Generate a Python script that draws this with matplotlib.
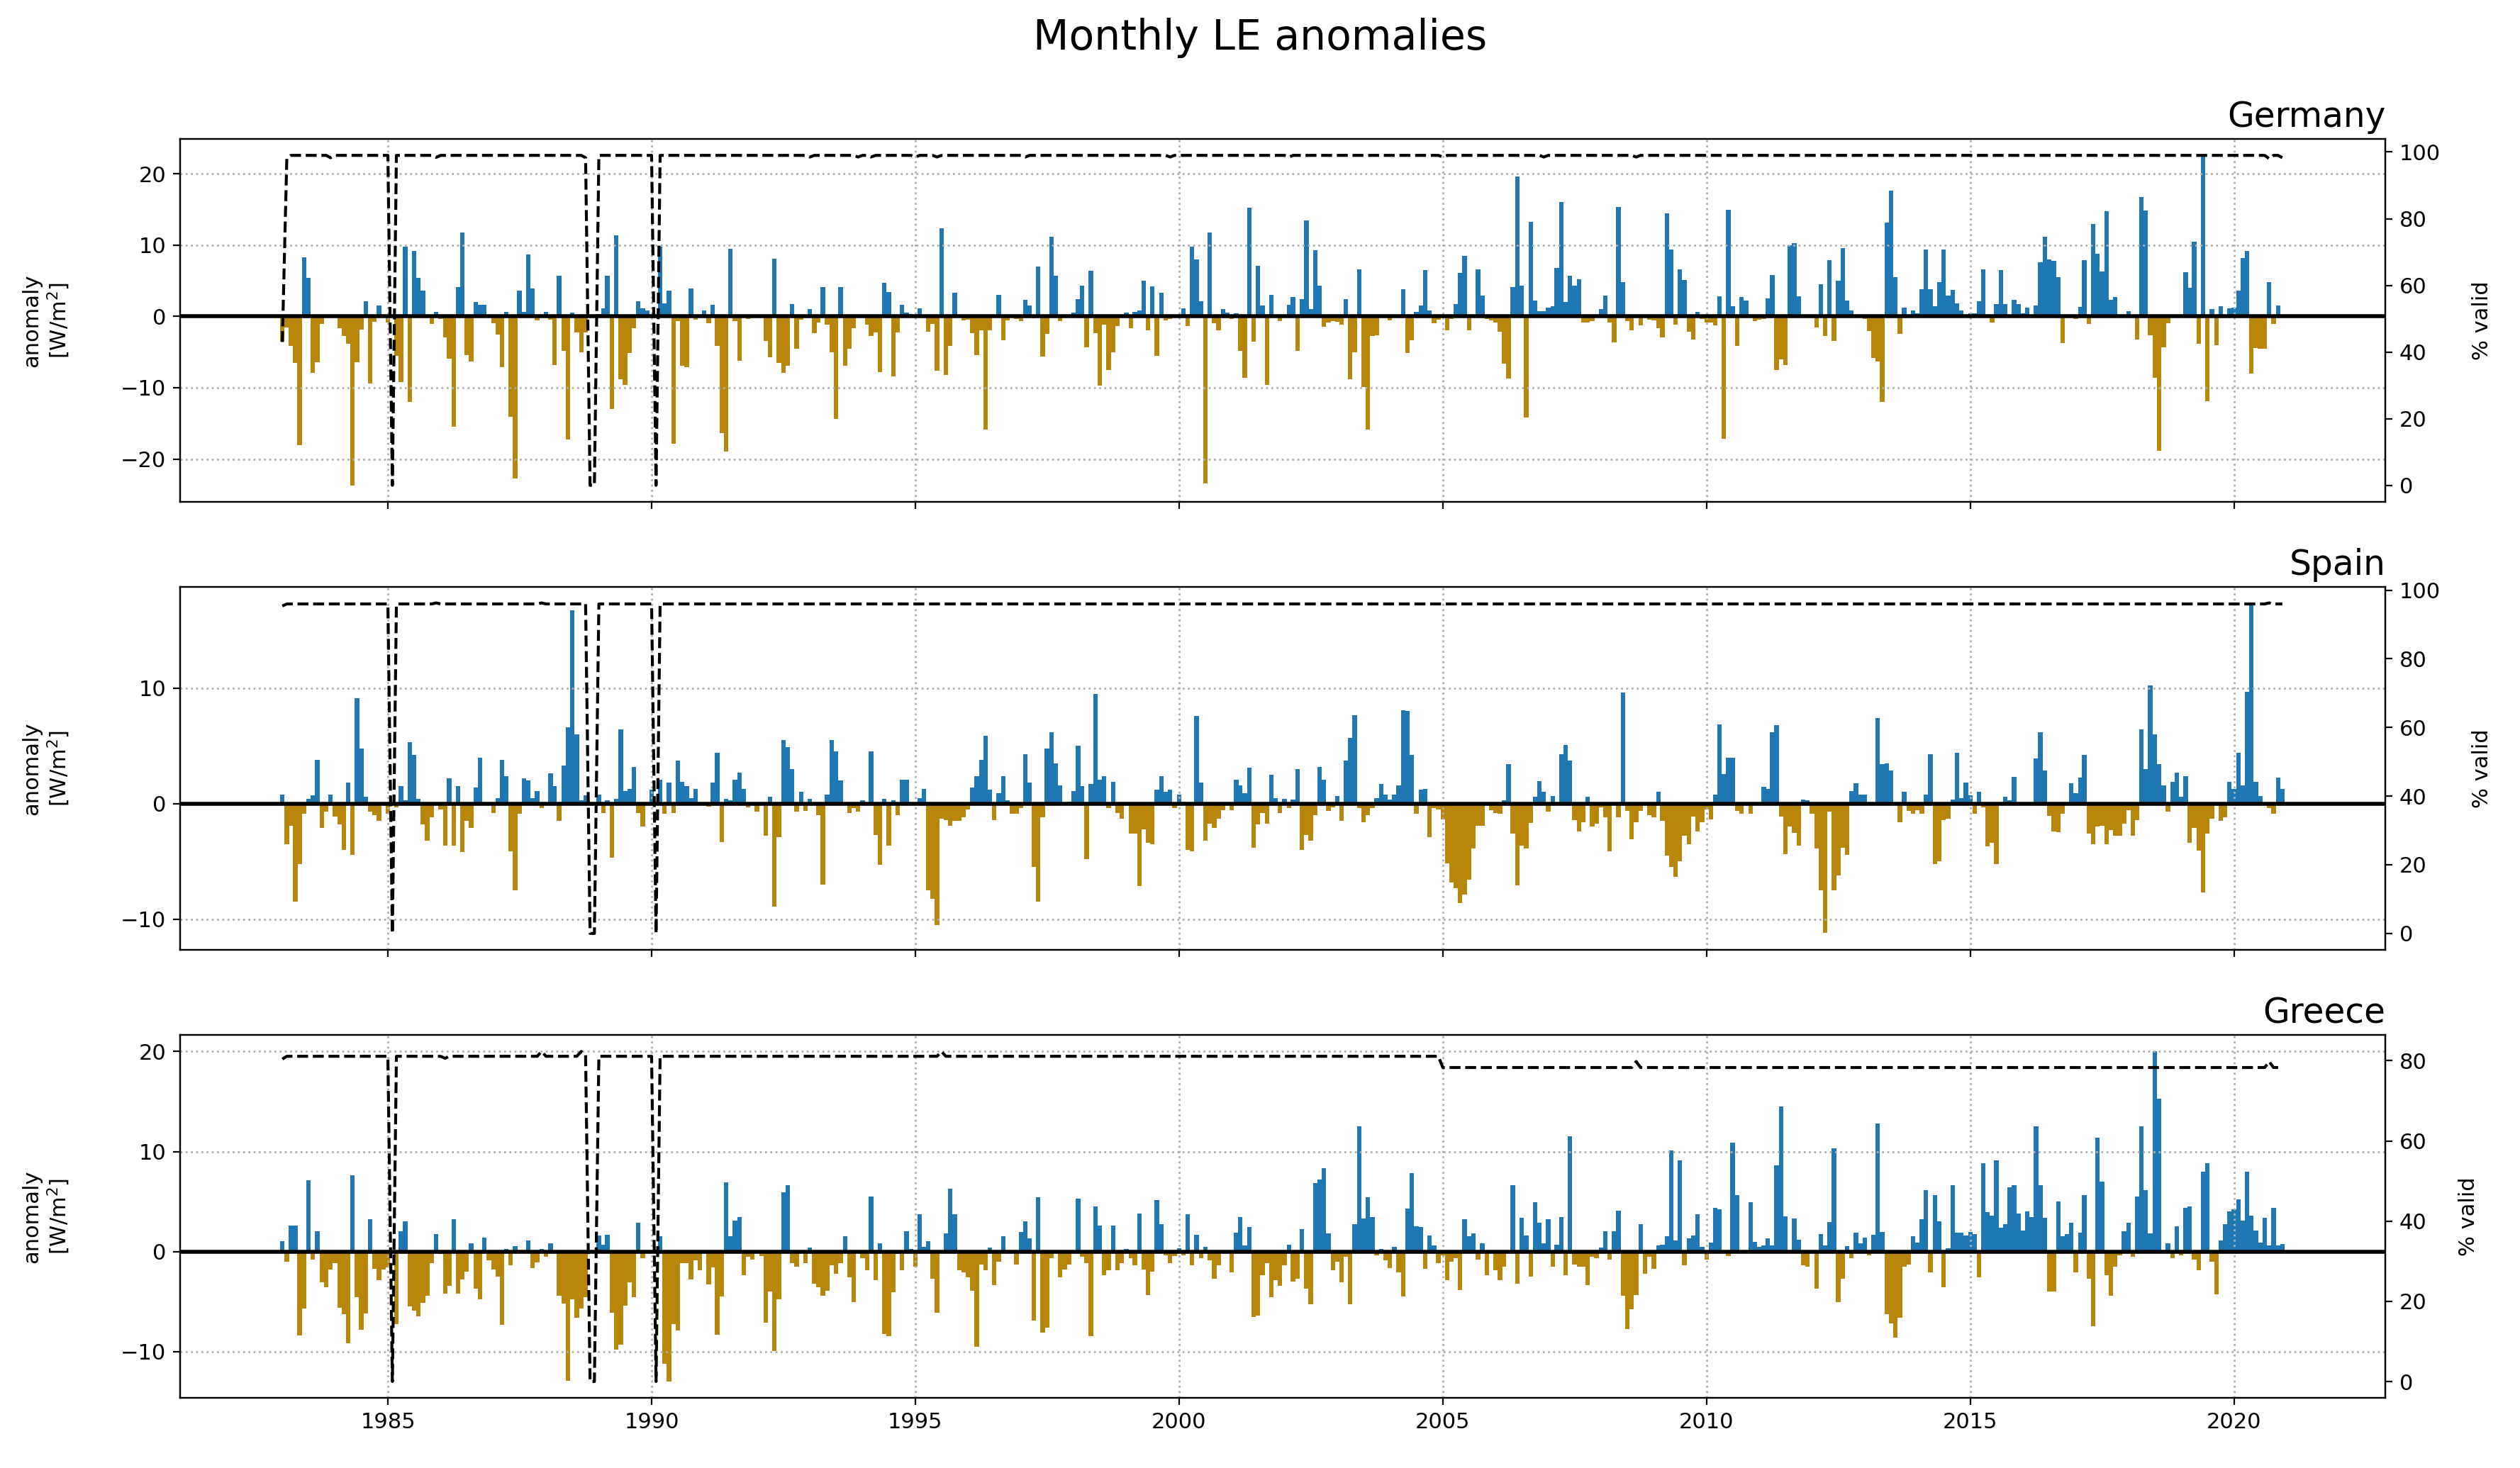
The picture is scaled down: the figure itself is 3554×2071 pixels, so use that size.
import numpy as np
import pandas as pd
import matplotlib
matplotlib.use("Agg")
import matplotlib.pyplot as plt
import matplotlib.dates as mdates

nan = np.nan

# ---------------- data (one row per year, Jan..Dec, 1983-2020) ----------------
germany_anom = [
    -3.5, -1.6, -4.1, -6.5, -18.1, 8.3, 5.4, -7.9, -6.4, -1.1, 0, 0,
    0, -1.7, -2.7, -3.8, -23.7, -6.4, -1.8, 2.1, -9.4, -0.8, 1.5, 0,
    -0.9, nan, -5.5, -9.2, 9.8, -12.0, 9.2, 5.4, 3.6, 0, -1.1, 0.6,
    -0.4, -2.9, -5.9, -15.5, 4.1, 11.8, -5.4, -6.3, 2.0, 1.6, 1.6, 0,
    -1.0, -2.5, -7.1, 0.6, -14.1, -22.7, 3.6, 0.6, 8.7, 3.9, -0.6, 0,
    0.6, -0.5, -6.8, 5.7, -4.8, -17.3, 0.5, -2.2, -5.0, -2.2, nan, nan,
    0.3, 1.1, 5.7, -13.0, 11.4, -8.8, -9.6, -5.1, -1.7, 2.1, 1.1, 0.8,
    0, nan, 9.8, 1.8, 3.6, -17.9, -0.7, -6.9, -7.1, 3.9, -0.5, 0,
    0.8, -1.0, 1.6, -4.1, -16.4, -18.9, 9.5, -0.7, -6.2, 0, -0.4, 0,
    0, 0, -3.4, -5.7, 8.1, -6.5, -7.9, -6.9, 1.7, -4.5, -0.5, 0,
    1.0, -2.3, -0.9, 4.1, -1.2, -5.0, -14.4, 4.1, -6.9, -4.5, -1.7, 0,
    0, -1.2, -2.7, -2.2, -7.8, 4.7, 3.4, -8.4, -2.2, 1.6, 0.5, 0.3,
    0, 1.1, 0, -2.1, -1.1, -7.6, 12.4, -8.2, -4.1, 3.3, 0, -0.6,
    -0.5, -2.3, -5.4, -1.9, -15.9, -1.9, 0.2, 3.0, -3.3, -0.6, 0, -0.4,
    -0.7, 2.3, 1.5, -0.3, 7.0, -5.6, -2.4, 11.2, 5.7, -0.7, 0, 0,
    0.5, 2.4, 4.3, -4.3, 6.4, -2.3, -9.7, -1.2, -7.5, -5.0, -1.4, 0,
    0.5, -1.7, 0.6, 0.8, 5.0, -1.9, 4.2, -5.5, 3.3, -0.6, -0.4, 0,
    0, 1.1, -1.4, 9.8, 8.0, 2.1, -23.4, 11.8, -1.0, -1.9, 1.0, 0.5,
    -0.4, 0.4, -4.8, -8.6, 15.2, -3.5, 7.1, 1.5, -9.6, 3.0, 0, -0.7,
    0, 1.6, 2.7, -4.8, 2.4, 13.5, 1.0, 9.3, 4.3, -1.5, -0.9, -0.7,
    -0.8, -1.2, 2.4, -8.8, -5.0, 6.6, -9.9, -15.9, -2.7, -2.6, 0, 0,
    -0.6, 0, 0, 3.8, -5.1, -3.3, 0.6, 1.5, 6.5, 0.8, -1.0, -0.5,
    0, -1.9, -0.4, 1.7, 6.1, 8.5, -1.9, 0, 6.6, 2.9, -0.4, -0.6,
    -0.9, -2.1, -6.6, -8.7, 4.1, 19.6, 4.3, -14.2, 13.3, 2.2, 0.7, 0.7,
    1.2, 1.4, 6.8, 16.0, 2.0, 5.7, 4.3, 5.2, -0.9, -0.9, -0.7, 0,
    1.0, 2.9, -0.9, -3.6, 15.3, 4.8, -0.7, -1.9, 0, -1.3, 0, -0.5,
    -0.6, -1.7, -2.9, 14.5, 9.4, -1.2, 6.6, 5.1, -2.1, -3.2, 0.6, -0.4,
    -0.9, -0.9, -1.3, 2.8, -17.2, 15.0, 1.4, -4.1, 2.7, 2.2, 0, -0.7,
    -0.5, -0.4, 2.5, 5.8, -7.5, -6.0, -6.8, 10.0, 10.3, 2.8, 0, 0,
    0, -1.6, 4.5, -2.7, 7.9, -3.4, 5.0, 9.6, 2.2, 0.8, 0, 0,
    -0.4, -2.0, -5.8, -6.3, -12.0, 13.2, 17.6, 5.5, -2.4, 1.2, 0, 0.8,
    0.4, 3.8, 9.4, 3.8, 1.4, 4.8, 9.4, 2.9, 3.7, 1.8, 0.8, 0,
    0.4, 0.4, 2.1, 6.6, 0, -0.9, 1.7, 6.5, 1.7, 0, 2.3, 1.7,
    0.4, 1.2, 0, 1.5, 7.6, 11.2, 8.0, 7.8, 5.5, -3.7, 0, 0,
    -0.4, 1.3, 7.9, -1.1, 13.0, 8.8, 6.3, 14.8, 2.3, 2.7, 0, 0,
    0.7, 0, -3.2, 16.7, 14.9, -2.6, -8.6, -18.8, -4.3, -1.0, 0, 0,
    0, 6.2, 4.0, 10.5, -3.8, 22.6, -11.9, 1.0, -4.0, 1.4, 0, 1.1,
    1.2, 3.6, 8.2, 9.2, -8.0, -4.4, -4.5, -4.5, 4.8, -1.1, 1.5, 0.2,
]

spain_anom = [
    0.8, -3.5, -1.9, -8.5, -5.2, -0.9, 0.4, 0.7, 3.8, -2.1, -0.7, 0.8,
    -1.1, -1.8, -4.0, 1.8, -4.4, 9.1, 4.8, 0.6, -0.7, -1.0, -1.5, 0,
    -0.9, nan, -0.3, 1.5, 0.3, 5.3, 4.2, 0.4, -1.8, -3.2, -1.2, 0,
    -0.5, -3.6, 2.2, -3.6, 1.5, -4.2, -1.5, -2.1, 1.4, 4.0, 0, 0,
    -0.8, 0.45, 3.8, 2.4, -4.1, -7.5, -0.9, 2.2, 2.0, 0.5, 1.1, -0.35,
    0, 2.6, 1.5, -1.5, 3.3, 6.6, 16.7, 6.0, 0.3, 0.7, nan, nan,
    0.8, -0.8, 0.3, -4.7, 0.4, 6.4, 1.1, 1.3, 3.2, -0.8, -2.0, 0,
    1.2, nan, 2.1, -0.9, 1.8, -0.8, 3.7, 1.9, 1.5, 0.5, 1.3, 0,
    0, -0.25, 1.8, 4.4, -3.3, 0.4, 0.3, 2.1, 2.7, 1.3, -0.3, 0,
    -0.7, 0, -2.8, 0.6, -8.9, -2.9, 5.5, 4.9, 3.0, -0.7, 1.0, -0.65,
    0.4, 0, -1.0, -7.0, 0.8, 5.5, 4.5, 2.0, 0, -0.8, -0.4, -0.7,
    0.3, 0, 4.5, -2.7, -5.3, 0.4, -3.6, 0.3, -1.0, 2.1, 2.1, 0,
    0, 0.45, 1.3, -7.5, -8.2, -10.5, -1.3, -1.4, -1.9, -1.5, -1.5, -1.2,
    -0.5, 1.4, 2.4, 3.8, 5.9, 1.2, -1.4, 0.9, 2.4, 0.3, -0.9, -0.9,
    -0.4, 4.3, 1.8, -5.5, -8.5, -1.2, 4.8, 6.2, 3.5, 1.6, 0, 0.2,
    1.1, 5.0, 1.5, -4.8, 1.7, 9.5, 2.1, 2.4, -0.4, 1.9, -0.8, -1.3,
    0, -2.6, -2.6, -7.1, -2.2, -3.4, -3.5, 1.2, 2.4, 1.0, 1.2, -0.35,
    0.8, 0.2, -4.0, -4.1, 7.6, 1.8, -3.2, -1.7, -2.1, -1.3, -0.55, 0,
    -0.55, 2.1, 1.6, 0.9, 3.1, -3.8, -1.8, -0.8, -1.7, 2.5, 0.45, -0.8,
    0.4, -0.4, 0.35, 3.0, -4.0, -2.7, -3.2, -1.0, 3.2, 2.1, -0.65, -0.3,
    0.65, -1.5, 3.7, 5.7, 7.65, -0.35, -1.6, -1.0, -0.35, 0.5, 1.7, 0.8,
    0.35, 0.8, 1.6, 8.1, 8.0, 4.2, -0.9, 1.2, 1.3, -2.9, -0.35, -0.5,
    -1.35, -5.15, -6.8, -7.3, -8.6, -7.85, -6.6, -3.9, -1.9, -1.9, 0, -0.55,
    -0.8, -0.9, 0.3, 3.4, -2.6, -7.05, -3.6, -3.9, -1.65, 0.6, 1.95, 1.0,
    -0.7, 0.65, 0, 4.3, 5.1, 3.7, -1.4, -2.4, -1.6, 0.6, -2.0, -1.7,
    -0.3, -1.15, -4.1, 0, -1.15, 9.6, -0.6, -3.1, -1.6, -0.6, 0, -1.0,
    -1.2, 1.0, -1.5, -4.5, -5.5, -6.3, -5.0, -2.8, -3.5, -1.1, -2.4, -1.6,
    -0.5, -1.35, 0.8, 6.85, 2.55, 4.0, 3.95, -0.65, -0.9, 0, -0.9, 0,
    0, 1.45, 1.3, 6.2, 6.8, -1.1, -4.35, -2.0, -2.5, -3.6, 0.35, 0.3,
    -0.9, -3.9, -7.5, -11.2, -0.7, -7.5, -6.2, -3.8, -4.4, 1.1, 1.75, 0.8,
    0.8, 0, 0, 7.4, 3.4, 3.5, 2.9, 0, -1.6, 1.0, -0.6, -0.85,
    -0.55, -0.85, 0.8, 4.3, -5.2, -4.95, -1.4, -1.3, 0.35, 4.4, 0.45, 1.8,
    0.7, -0.9, 1.0, -0.3, -3.7, -3.4, -5.2, 0, 0.6, 0.3, 2.3, 0,
    0, 0, 0, 3.9, 6.2, 2.9, -1.05, -2.4, -2.45, -0.85, 0, 1.75,
    0.9, 2.25, 4.2, -2.6, -3.5, -1.95, -1.9, -3.5, -2.3, -2.8, -2.75, -1.7,
    -0.55, -2.8, -1.4, 6.4, 3.0, 10.2, 6.0, 3.4, 1.6, -0.7, 1.9, 2.7,
    0.6, 2.4, -3.4, -2.1, -4.05, -7.7, -2.6, -1.3, 0, -1.5, -1.15, 1.9,
    1.3, 4.4, 1.6, 9.7, 17.3, 1.9, 0.65, 0, -0.4, -0.9, 2.25, 1.3,
]

greece_anom = [
    1.05, -1.05, 2.6, 2.6, -8.4, -5.7, 7.15, -0.8, 2.0, -3.1, -3.6, -1.8,
    -1.2, -5.6, -6.3, -9.2, 7.6, -4.6, -7.8, -6.2, 3.25, -1.7, -2.9, -1.8,
    -1.6, nan, -7.25, 2.0, 3.0, -5.5, -5.9, -6.5, -5.1, -4.4, -1.15, 1.75,
    -0.25, -4.2, -3.4, 3.2, -4.2, -2.8, -2.0, 0.8, -3.7, -4.8, 1.4, -0.9,
    -1.8, -2.5, -7.3, 0.25, -1.4, 0.55, 0, 0, 1.1, -1.65, -1.1, 0.25,
    -0.5, 0.8, 0, -4.4, -5.2, -12.9, -4.8, -6.6, -5.7, -4.6, nan, nan,
    1.6, 0.7, 1.7, -6.1, -9.8, -9.3, -5.4, -3.1, -4.6, 2.9, -0.65, 0,
    0, nan, 1.5, -11.2, -13.0, -7.25, -7.9, -1.15, -1.2, -2.8, -0.85, -1.85,
    0, -3.3, -1.6, -8.3, -4.5, 6.9, 1.5, 3.1, 3.45, -2.35, -0.55, -0.8,
    0, -0.45, -7.1, -4.0, -9.95, -4.8, 5.95, 6.65, -1.15, -1.5, 0, -1.2,
    0.4, -3.2, -3.55, -4.4, -3.9, -1.4, -2.2, -1.2, 1.5, -2.55, -5.05, 0,
    -0.65, -1.85, 5.5, -2.9, 0.85, -8.25, -8.5, -4.1, -0.25, -1.85, 2.05, 0.25,
    -1.5, 3.75, 0.5, 1.05, -2.7, -6.1, 0, 1.8, 6.3, 3.75, -1.9, -2.1,
    -2.6, -3.9, -9.5, -1.3, -1.85, 0.4, -3.35, -1.05, 1.5, 0, 0, -1.3,
    1.95, 3.0, 1.3, -6.9, 5.4, -8.1, -7.6, -0.7, -0.2, -2.55, -1.8, -1.3,
    0, 5.3, -0.55, -1.15, -8.45, 4.5, 2.6, -2.4, -1.85, 2.6, -1.9, -1.2,
    0.25, -0.7, -1.35, 3.8, -1.8, -4.35, -2.05, 5.15, 2.7, -0.35, -1.15, -0.45,
    0.35, -0.35, 3.7, -1.35, 1.7, -0.65, 0.5, -0.9, -2.7, -1.4, 0, 0,
    -2.1, 1.9, 3.45, 0.6, 2.45, -6.55, -6.4, -2.35, -1.15, -4.55, -2.9, -3.4,
    -1.35, 0.7, -3.0, -2.7, 2.25, -3.7, -5.25, 6.85, 7.2, 8.35, 1.8, -1.9,
    -1.05, -3.1, -0.55, -5.25, 2.7, 12.5, 3.3, 5.45, 3.45, -0.35, 0.25, -0.85,
    -1.65, 0.5, -2.1, -4.5, 4.3, 7.85, 2.55, 2.45, -1.7, 1.6, 0.6, -1.2,
    -0.35, -2.85, -1.05, -0.65, -3.85, 3.2, 1.5, 1.8, -0.8, 0.85, -2.35, 0,
    -1.9, -2.9, -1.5, 0, 6.65, -3.2, 3.4, 1.6, -2.5, 4.9, 2.9, 0.85,
    3.2, -1.55, 0.7, 3.45, -2.4, 11.5, -1.3, -1.5, -1.5, -3.35, -0.5, -0.7,
    0.4, 2.05, -0.8, 2.05, 4.1, -4.4, -7.75, -5.8, -4.35, 2.7, -2.2, -0.55,
    -1.7, 0.6, 0.7, 1.5, 10.1, 1.1, 9.15, -1.4, 1.3, 1.6, 3.7, 0.5,
    -0.8, 0.9, 4.4, 4.2, 0, -0.45, 10.9, 5.65, 0, 0, 4.95, 0.95,
    0.5, 0.6, 1.3, 0.6, 8.65, 14.5, 3.5, 0, 3.3, 1.2, -1.4, -1.55,
    0, -3.75, 1.75, 0.6, 2.95, 10.35, -5.05, -2.7, 0.55, -0.7, 1.9, 0.85,
    1.4, -0.35, 1.7, 12.8, 1.95, -6.25, -7.2, -8.6, -6.6, -1.5, -1.3, 1.55,
    0.9, 3.25, 6.15, -2.1, 5.65, 3.0, -3.55, 0.35, 6.65, 1.9, 1.9, 1.6,
    1.95, 1.75, -2.55, 8.85, 3.95, 3.55, 9.1, 2.4, 2.75, 6.45, 6.65, 3.8,
    2.1, 4.0, 3.45, 12.55, 6.65, 3.4, -4.0, -4.0, 5.0, 1.55, 1.75, 2.9,
    -2.1, 1.9, 5.65, -2.7, -7.45, 11.35, 7.0, -2.4, -4.4, -1.55, -0.35, 2.05,
    2.9, -0.55, 5.5, 12.5, 6.15, 1.8, 20.0, 15.3, 0, 0.85, -0.65, 2.55,
    -0.35, 4.4, 4.5, -0.8, -1.85, 8.0, 8.85, -1.0, -4.25, 1.1, 2.75, 4.0,
    4.25, 5.25, 3.1, 8.0, 3.6, 2.1, 0.9, 3.4, 0.6, 4.4, 0.6, 0.75,
]

germany_valid = [
    43, 98, 99, 99, 99, 99, 99, 99, 99, 99, 99, 98.3,
    99, 99, 99, 99, 99, 99, 99, 99, 99, 99, 99, 99,
    99, 0, 99, 99, 99, 99, 99, 99, 99, 99, 99, 98.4,
    99, 99, 99, 99, 99, 99, 99, 99, 99, 99, 99, 99,
    99, 99, 99, 99, 99, 99, 99, 99, 99, 99, 99, 99,
    99, 99, 99, 99, 99, 99, 99, 99, 99, 98.3, 0, 0,
    99, 99, 99, 99, 99, 99, 99, 99, 99, 99, 99, 99,
    99, 0, 99, 99, 99, 99, 99, 99, 99, 99, 99, 99,
    99, 99, 99, 99, 99, 99, 99, 99, 99, 99, 99, 99,
    99, 99, 99, 99, 99, 99, 99, 99, 99, 99, 99, 99,
    98.5, 99, 99, 99, 99, 99, 99, 99, 99, 99, 99, 98.5,
    99, 99, 98.5, 99, 99, 99, 99, 99, 99, 99, 99, 99,
    98.5, 99, 99, 99, 99, 98.5, 99, 99, 99, 99, 99, 99,
    99, 99, 99, 99, 99, 99, 99, 99, 99, 99, 99, 99,
    99, 98.5, 99, 99, 99, 99, 99, 99, 99, 99, 99, 99,
    99, 99, 99, 99, 99, 99, 99, 99, 99, 99, 99, 99,
    99, 99, 99, 99, 99, 99, 99, 99, 99, 99, 98.5, 99,
    99, 99, 99, 99, 99, 99, 99, 99, 99, 99, 99, 99,
    99, 99, 99, 99, 99, 99, 99, 99, 99, 99, 99, 99,
    99, 98.5, 99, 99, 99, 99, 99, 99, 99, 99, 99, 99,
    99, 99, 99, 99, 99, 99, 99, 99, 99, 99, 99, 99,
    99, 99, 99, 99, 99, 99, 99, 99, 99, 99, 99, 99,
    98.5, 99, 99, 99, 99, 99, 99, 99, 99, 99, 99, 99,
    99, 99, 99, 99, 99, 99, 99, 99, 99, 99, 99, 98.5,
    99, 99, 99, 99, 99, 99, 99, 99, 99, 99, 99, 99,
    99, 99, 99, 99, 99, 99, 99, 99, 98.5, 99, 99, 99,
    99, 99, 99, 99, 99, 99, 99, 99, 99, 99, 99, 99,
    99, 99, 99, 99, 99, 99, 99, 99, 99, 99, 99, 99,
    99, 99, 99, 99, 99, 99, 99, 99, 99, 99, 99, 99,
    99, 99, 99, 99, 99, 99, 99, 99, 99, 99, 99, 99,
    99, 99, 99, 99, 99, 99, 99, 99, 99, 99, 99, 99,
    99, 99, 99, 99, 99, 99, 99, 99, 99, 99, 99, 99,
    99, 99, 99, 99, 99, 99, 99, 99, 99, 99, 99, 99,
    99, 99, 99, 99, 99, 99, 99, 99, 99, 99, 99, 99,
    99, 99, 99, 99, 99, 99, 99, 99, 99, 99, 99, 99,
    99, 99, 99, 99, 99, 99, 99, 99, 99, 99, 99, 99,
    99, 99, 99, 99, 99, 99, 99, 99, 99, 99, 99, 99,
    99, 99, 99, 99, 99, 99, 99, 99, 98, 99, 99, 98.3,
]

spain_valid = [
    95.4, 96, 96, 96, 96, 96, 96, 96, 96, 96, 96, 96,
    96, 96, 96, 96, 96, 96, 96, 96, 96, 96, 96, 96,
    96, 0, 96, 96, 96, 96, 96, 96, 96, 96, 96, 96.3,
    96, 96, 96, 96, 96, 96, 96, 96, 96, 96, 96, 96,
    96, 96, 96, 96, 96, 96, 96, 96, 96, 96, 96, 96.3,
    96, 96, 96, 96, 96, 96, 96, 96, 96, 96, 0, 0,
    96, 96, 96, 96, 96, 96, 96, 96, 96, 96, 96, 96,
    96, 0, 96, 96, 96, 96, 96, 96, 96, 96, 96, 96,
    96, 96, 96, 96, 96, 96, 96, 96, 96, 96, 96, 96,
    96, 96, 96, 96, 96, 96, 96, 96, 96, 96, 96, 96,
    96, 96, 96, 96, 96, 96, 96, 96, 96, 96, 96, 96,
    96, 96, 96, 96, 96, 96, 96, 96, 96, 96, 96, 96,
    96, 96, 96, 96, 96, 96, 96, 96, 96, 96, 96, 96,
    96, 96, 96, 96, 96, 96, 96, 96, 96, 96, 96, 96,
    96, 96, 96, 96, 96, 96, 96, 96, 96, 96, 96, 96,
    96, 96, 96, 96, 96, 96, 96, 96, 96, 96, 96, 96,
    96, 96, 96, 96, 96, 96, 96, 96, 96, 96, 96, 96,
    96, 96, 96, 96, 96, 96, 96, 96, 96, 96, 96, 96,
    96, 96, 96, 96, 96, 96, 96, 96, 96, 96, 96, 96,
    96, 96, 96, 96, 96, 96, 96, 96, 96, 96, 96, 96,
    96, 96, 96, 96, 96, 96, 96, 96, 96, 96, 96, 96,
    96, 96, 96, 96, 96, 96, 96, 96, 96, 96, 96, 96,
    96, 96, 96, 96, 96, 96, 96, 96, 96, 96, 96, 96,
    96, 96, 96, 96, 96, 96, 96, 96, 96, 96, 96, 96,
    96, 96, 96, 96, 96, 96, 96, 96, 96, 96, 96, 96,
    96, 96, 96, 96, 96, 96, 96, 96, 96, 96, 96, 96,
    96, 96, 96, 96, 96, 96, 96, 96, 96, 96, 96, 96,
    96, 96, 96, 96, 96, 96, 96, 96, 96, 96, 96, 96,
    96, 96, 96, 96, 96, 96, 96, 96, 96, 96, 96, 96,
    96, 96, 96, 96, 96, 96, 96, 96, 96, 96, 96, 96,
    96, 96, 96, 96, 96, 96, 96, 96, 96, 96, 96, 96,
    96, 96, 96, 96, 96, 96, 96, 96, 96, 96, 96, 96,
    96, 96, 96, 96, 96, 96, 96, 96, 96, 96, 96, 96,
    96, 96, 96, 96, 96, 96, 96, 96, 96, 96, 96, 96,
    96, 96, 96, 96, 96, 96, 96, 96, 96, 96, 96, 96,
    96, 96, 96, 96, 96, 96, 96, 96, 96, 96, 96, 96,
    96, 96, 96, 96, 96, 96, 96, 96, 96, 96, 96, 96,
    96, 96, 96, 96, 96, 96, 96, 96, 96.3, 96, 96, 96,
]

greece_valid = [
    80.4, 81.1, 81.1, 81.1, 81.1, 81.1, 81.1, 81.1, 81.1, 81.1, 81.1, 81.1,
    81.1, 81.1, 81.1, 81.1, 81.1, 81.1, 81.1, 81.1, 81.1, 81.1, 81.1, 81.1,
    81.1, 0, 81.1, 81.1, 81.1, 81.1, 81.1, 81.1, 81.1, 81.1, 81.1, 81.1,
    81.1, 80.6, 81.1, 81.1, 81.1, 81.1, 81.1, 81.1, 81.1, 81.1, 81.1, 81.1,
    81.1, 81.1, 81.1, 81.1, 81.1, 81.1, 81.1, 81.1, 81.1, 81.1, 81.1, 82.3,
    81.1, 81.1, 81.1, 81.1, 81.1, 81.1, 81.1, 81.1, 82.3, 81.5, 0, 0,
    81.1, 81.1, 81.1, 81.1, 81.1, 81.1, 81.1, 81.1, 81.1, 81.1, 81.1, 81.1,
    81.1, 0, 81.1, 81.1, 81.1, 81.1, 81.1, 81.1, 81.1, 81.1, 81.1, 81.1,
    81.1, 81.1, 81.1, 81.1, 81.1, 81.1, 81.1, 81.1, 81.1, 81.1, 81.1, 81.1,
    81.1, 81.1, 81.1, 81.1, 81.1, 81.1, 81.1, 81.1, 81.1, 81.1, 81.1, 81.1,
    81.1, 81.1, 81.1, 81.1, 81.1, 81.1, 81.1, 81.1, 81.1, 81.1, 81.1, 81.1,
    81.1, 81.1, 81.1, 81.1, 81.1, 81.1, 81.1, 81.1, 81.1, 81.1, 81.1, 81.1,
    81.1, 81.1, 81.1, 81.1, 81.1, 81.1, 82.3, 81.1, 81.1, 81.1, 81.1, 81.1,
    81.1, 81.1, 81.1, 81.1, 81.1, 81.1, 81.1, 81.1, 81.1, 81.1, 81.1, 81.1,
    81.1, 81.1, 81.1, 81.1, 81.1, 81.1, 81.1, 81.1, 81.1, 81.1, 81.1, 81.1,
    81.1, 81.1, 81.1, 81.1, 81.1, 81.1, 81.1, 81.1, 81.1, 81.1, 81.1, 81.1,
    81.1, 81.1, 81.1, 81.1, 81.1, 81.1, 81.1, 81.1, 81.1, 81.1, 81.1, 81.1,
    81.1, 81.1, 81.1, 81.1, 81.1, 81.1, 81.1, 81.1, 81.1, 81.1, 81.1, 81.1,
    81.1, 81.1, 81.1, 81.1, 81.1, 81.1, 81.1, 81.1, 81.1, 81.1, 81.1, 81.1,
    81.1, 81.1, 81.1, 81.1, 81.1, 81.1, 81.1, 81.1, 81.1, 81.1, 81.1, 81.1,
    81.1, 81.1, 81.1, 81.1, 81.1, 81.1, 81.1, 81.1, 81.1, 81.1, 81.1, 81.1,
    81.1, 81.1, 81.1, 81.1, 81.1, 81.1, 81.1, 81.1, 81.1, 81.1, 81.1, 81.1,
    78.3, 78.3, 78.3, 78.3, 78.3, 78.3, 78.3, 78.3, 78.3, 78.3, 78.3, 78.3,
    78.3, 78.3, 78.3, 78.3, 78.3, 78.3, 78.3, 78.3, 78.3, 78.3, 78.3, 78.3,
    78.3, 78.3, 78.3, 78.3, 78.3, 78.3, 78.3, 78.3, 78.3, 78.3, 78.3, 78.3,
    78.3, 78.3, 78.3, 78.3, 78.3, 78.3, 78.3, 78.3, 79.8, 78.3, 78.3, 78.3,
    78.3, 78.3, 78.3, 78.3, 78.3, 78.3, 78.3, 78.3, 78.3, 78.3, 78.3, 78.3,
    78.3, 78.3, 78.3, 78.3, 78.3, 78.3, 78.3, 78.3, 78.3, 78.3, 78.3, 78.3,
    78.3, 78.3, 78.3, 78.3, 78.3, 78.3, 78.3, 78.3, 78.3, 78.3, 78.3, 78.3,
    78.3, 78.3, 78.3, 78.3, 78.3, 78.3, 78.3, 78.3, 78.3, 78.3, 78.3, 78.3,
    78.3, 78.3, 78.3, 78.3, 78.3, 78.3, 78.3, 78.3, 78.3, 78.3, 78.3, 78.3,
    78.3, 78.3, 78.3, 78.3, 78.3, 78.3, 78.3, 78.3, 78.3, 78.3, 78.3, 78.3,
    78.3, 78.3, 78.3, 78.3, 78.3, 78.3, 78.3, 78.3, 78.3, 78.3, 78.3, 78.3,
    78.3, 78.3, 78.3, 78.3, 78.3, 78.3, 78.3, 78.3, 78.3, 78.3, 78.3, 78.3,
    78.3, 78.3, 78.3, 78.3, 78.3, 78.3, 78.3, 78.3, 78.3, 78.3, 78.3, 78.3,
    78.3, 78.3, 78.3, 78.3, 78.3, 78.3, 78.3, 78.3, 78.3, 78.3, 78.3, 78.3,
    78.3, 78.3, 78.3, 78.3, 78.3, 78.3, 78.3, 78.3, 78.3, 78.3, 78.3, 78.3,
    78.3, 78.3, 78.3, 78.3, 78.3, 78.3, 78.3, 78.3, 79.8, 78.3, 78.3, 78.3,
]

regions = ["Germany", "Spain", "Greece"]
anomalies = [germany_anom, spain_anom, greece_anom]
valids = [germany_valid, spain_valid, greece_valid]
left_ylims = [(-26.0, 24.9), (-12.65, 18.75), (-14.65, 21.65)]
left_yticks = [[-20, -10, 0, 10, 20], [-10, 0, 10], [-10, 0, 10, 20]]
right_ylims = [(-4.95, 103.95), (-4.8, 100.95), (-4.1, 86.4)]
right_yticks = [[0, 20, 40, 60, 80, 100], [0, 20, 40, 60, 80, 100], [0, 20, 40, 60, 80]]

POS = "#1f77b4"
NEG = "#b8860b"

dates = pd.date_range("1983-01-01", "2020-12-01", freq="MS").to_pydatetime()

plt.rcParams["font.family"] = ["DejaVu Sans"]
plt.rcParams["font.size"] = 11

fig, axes = plt.subplots(3, 1, sharex=True, figsize=(17.77, 10.355), dpi=200)
fig.subplots_adjust(left=0.0714, right=0.9466, top=0.9054, bottom=0.0477, hspace=0.2346)

for ax, name, anom, valid, yl, yt, ryl, ryt in zip(
        axes, regions, anomalies, valids, left_ylims, left_yticks, right_ylims, right_yticks):
    vals = np.array(anom, dtype=float)
    colors = np.where(vals >= 0, POS, NEG)
    ax.bar(dates, vals, width=31, color=colors, align="center", linewidth=0)
    ax.axhline(0, color="k", lw=2.0, zorder=3)
    ax.grid(True, ls=":", color="#b0b0b0", lw=1.0)
    ax.set_ylim(*yl)
    ax.set_yticks(yt)
    ax.tick_params(labelsize=11)
    ax.set_ylabel("anomaly\n[W/m$^2$]", fontsize=11, labelpad=25)
    ax.set_title(name, loc="right", fontsize=17.5)
    ax2 = ax.twinx()
    ax2.plot(dates, valid, color="k", ls="--", lw=1.5)
    ax2.set_ylim(*ryl)
    ax2.set_yticks(ryt)
    ax2.tick_params(labelsize=11)
    ax2.set_ylabel("% valid", fontsize=11, labelpad=16)

axes[-1].xaxis.set_major_locator(mdates.YearLocator(5))
axes[-1].xaxis.set_major_formatter(mdates.DateFormatter("%Y"))
axes[-1].set_xlim(pd.Timestamp("1981-01-22"), pd.Timestamp("2022-11-15"))

fig.suptitle("Monthly LE anomalies", fontsize=21, y=0.988)

fig.savefig("out.png", dpi=200)
